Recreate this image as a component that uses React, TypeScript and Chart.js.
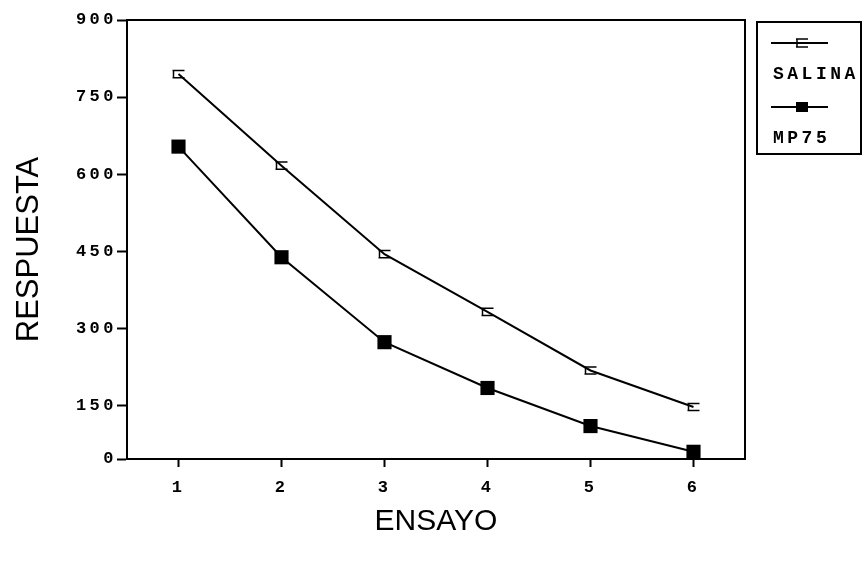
import React, { useEffect, useRef } from "react";
import { Chart, registerables } from "chart.js";

Chart.register(...registerables);

// ---- data ----
const ENSAYOS = ["1", "2", "3", "4", "5", "6"];
const SALINA = [795, 617, 445, 333, 219, 148];
const SALINA_ERR = [7, 7, 7, 7, 7, 7];
const MP75 = [654, 439, 274, 185, 111, 61];
const MP75_ERR = [6, 6, 6, 6, 6, 6];
const SERIES_NAMES = ["SALINA", "MP75"];
const Y_TICK_VALUES = [47, 150, 300, 450, 600, 750, 900];
const Y_TICK_LABELS = ["0", "150", "300", "450", "600", "750", "900"];
const X_TITLE = "ENSAYO";
const Y_TITLE = "RESPUESTA";

const INK = "#000000";
const MONO = "'Liberation Mono', 'DejaVu Sans Mono', monospace";
const SANS = "'Liberation Sans', Arial, sans-serif";

function drawErrMarker(ctx: CanvasRenderingContext2D, x: number, yTop: number, yBot: number, half: number) {
  ctx.beginPath();
  ctx.moveTo(x - half, yTop);
  ctx.lineTo(x + half, yTop);
  ctx.moveTo(x - half, yBot);
  ctx.lineTo(x + half, yBot);
  ctx.moveTo(x - half + 1, yTop);
  ctx.lineTo(x - half + 1, yBot);
  ctx.stroke();
}

const spacingPlugin = {
  id: "spacing",
  beforeDraw(chart: any) {
    (chart.ctx as any).letterSpacing = "3.5px";
  },
};

const decorPlugin = {
  id: "decor",
  afterDatasetsDraw(chart: any) {
    const ctx: CanvasRenderingContext2D = chart.ctx;
    const y = chart.scales.y;
    ctx.save();
    ctx.strokeStyle = INK;
    ctx.lineWidth = 1.5;
    chart.data.datasets.forEach((ds: any, di: number) => {
      const meta = chart.getDatasetMeta(di);
      const errs: number[] = ds.errors || [];
      meta.data.forEach((pt: any, i: number) => {
        const v = ds.data[i];
        const e = errs[i] || 0;
        drawErrMarker(ctx, pt.x, y.getPixelForValue(v + e), y.getPixelForValue(v - e), 6);
      });
    });
    ctx.restore();
  },
  afterDraw(chart: any) {
    const ctx: CanvasRenderingContext2D = chart.ctx;
    const a = chart.chartArea;
    ctx.save();
    (ctx as any).letterSpacing = "0px";
    // frame top and right
    ctx.strokeStyle = INK;
    ctx.lineWidth = 2;
    ctx.beginPath();
    ctx.moveTo(a.left, a.top);
    ctx.lineTo(a.right, a.top);
    ctx.lineTo(a.right, a.bottom);
    ctx.stroke();

    // axis titles
    ctx.fillStyle = INK;
    ctx.textAlign = "center";
    ctx.textBaseline = "middle";
    ctx.font = `31px ${SANS}`;
    ctx.save();
    ctx.translate(29, (a.top + a.bottom) / 2 + 10);
    ctx.rotate(-Math.PI / 2);
    ctx.fillText(Y_TITLE, 0, 0);
    ctx.restore();
    ctx.font = `30px ${SANS}`;
    ctx.fillText(X_TITLE, (a.left + a.right) / 2, 522);

    // legend box
    const lx = 757, ly = 22, lw = 104, lh = 132;
    ctx.lineWidth = 2;
    ctx.strokeRect(lx, ly, lw, lh);
    ctx.font = `bold 18px ${MONO}`;
    (ctx as any).letterSpacing = "3.5px";
    ctx.textAlign = "left";
    chart.data.datasets.forEach((ds: any, i: number) => {
      const yy = ly + 21 + i * 64;
      ctx.strokeStyle = ds.borderColor;
      ctx.lineWidth = 2;
      ctx.beginPath();
      ctx.moveTo(lx + 14, yy);
      ctx.lineTo(lx + 71, yy);
      ctx.stroke();
      const mx = lx + 45;
      if (ds.pointStyle === "rect") {
        ctx.fillStyle = ds.backgroundColor;
        ctx.fillRect(mx - 6, yy - 5, 12, 10);
      } else {
        ctx.lineWidth = 1.5;
        drawErrMarker(ctx, mx, yy - 4, yy + 4, 6);
      }
      ctx.fillStyle = INK;
      ctx.fillText(ds.label, lx + 16, yy + 31);
    });
    ctx.restore();
  },
};

export default function App() {
  const ref = useRef<HTMLCanvasElement | null>(null);
  useEffect(() => {
    if (!ref.current) return;
    const chart = new Chart(ref.current, {
      type: "line",
      data: {
        labels: ENSAYOS,
        datasets: [
          {
            label: SERIES_NAMES[0],
            data: SALINA,
            errors: SALINA_ERR,
            borderColor: INK,
            backgroundColor: INK,
            borderWidth: 2,
            pointRadius: 0,
            pointStyle: "line",
            tension: 0,
          } as any,
          {
            label: SERIES_NAMES[1],
            data: MP75,
            errors: MP75_ERR,
            borderColor: INK,
            backgroundColor: INK,
            borderWidth: 2,
            pointStyle: "rect",
            pointRadius: 10,
            pointBorderWidth: 0,
            tension: 0,
          } as any,
        ],
      },
      options: {
        animation: false,
        responsive: true,
        maintainAspectRatio: false,
        layout: { padding: { top: 20, right: 121, bottom: 0, left: 0 } },
        plugins: { legend: { display: false }, tooltip: { enabled: false } },
        scales: {
          x: {
            type: "category",
            offset: true,
            afterFit: (s: any) => {
              s.height = 104;
            },
            grid: {
              display: true,
              drawOnChartArea: false,
              tickLength: 8,
              tickWidth: 2,
              tickColor: INK,
              offset: false,
            },
            border: { display: true, color: INK, width: 2 },
            ticks: {
              color: INK,
              padding: 11,
              font: { family: MONO, size: 17, weight: "bold" },
              maxRotation: 0,
            },
          },
          y: {
            type: "linear",
            min: Y_TICK_VALUES[0],
            max: 900,
            afterFit: (s: any) => {
              s.width = 127;
            },
            afterBuildTicks: (s: any) => {
              s.ticks = Y_TICK_VALUES.map((v) => ({ value: v }));
            },
            grid: {
              display: true,
              drawOnChartArea: false,
              tickLength: 10,
              tickWidth: 2,
              tickColor: INK,
            },
            border: { display: true, color: INK, width: 2 },
            ticks: {
              color: INK,
              padding: 0,
              font: { family: MONO, size: 17, weight: "bold" },
              callback: (_v: any, i: number) => Y_TICK_LABELS[i],
            },
          },
        },
      },
      plugins: [spacingPlugin, decorPlugin],
    } as any);
    return () => chart.destroy();
  }, []);
  return (
    <div style={{ position: "fixed", left: 0, top: 0, width: 866, height: 563, background: "#fff" }}>
      <canvas ref={ref} />
    </div>
  );
}
